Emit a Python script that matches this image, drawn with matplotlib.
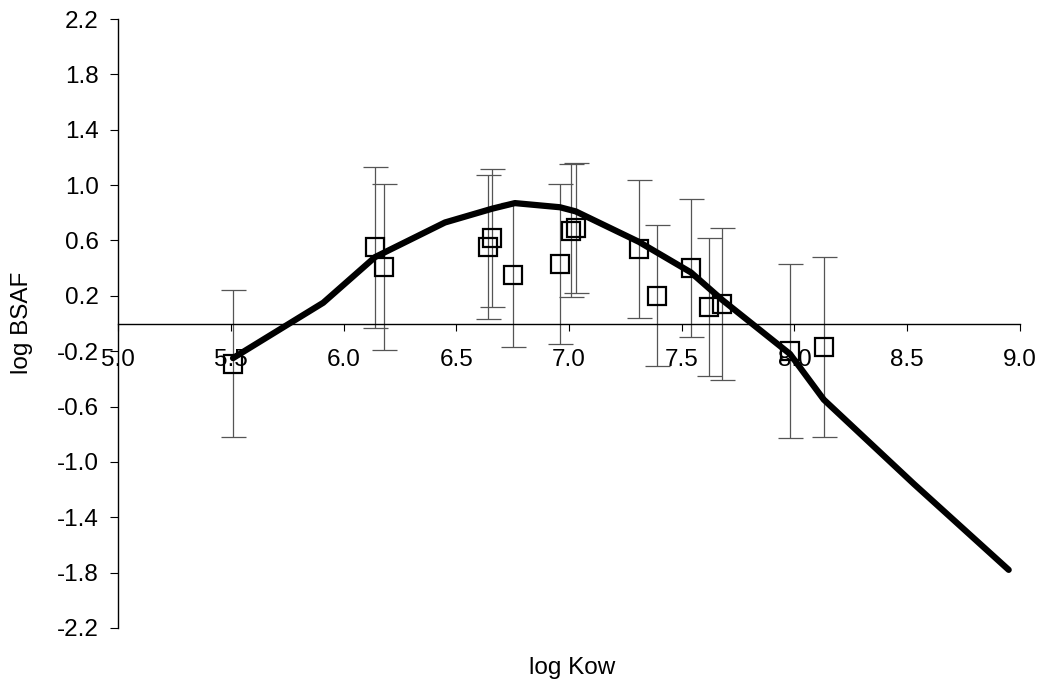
import matplotlib
matplotlib.use('Agg')
import matplotlib.pyplot as plt
import numpy as np

plt.rcParams['font.family'] = ['Liberation Sans', 'DejaVu Sans']

# ── datos medidos (cuadros con barras de error) ──────────────────────────────
log_kow = [5.51, 6.14, 6.18, 6.64, 6.66, 6.75, 6.96, 7.01, 7.03,
           7.31, 7.39, 7.54, 7.62, 7.68, 7.98, 8.13]
log_bsaf = [-0.29, 0.55, 0.41, 0.55, 0.62, 0.35, 0.43, 0.67, 0.69,
            0.54, 0.20, 0.40, 0.12, 0.14, -0.20, -0.17]
error = [0.53, 0.58, 0.60, 0.52, 0.50, 0.52, 0.58, 0.48, 0.47,
         0.50, 0.51, 0.50, 0.50, 0.55, 0.63, 0.65]

# ── curva del modelo ─────────────────────────────────────────────────────────
curva_x = [5.51, 5.91, 6.14, 6.45, 6.66, 6.76, 6.96, 7.03, 7.31,
           7.54, 7.68, 7.98, 8.13, 8.53, 8.95]
curva_y = [-0.25, 0.15, 0.48, 0.73, 0.83, 0.87, 0.84, 0.81, 0.59,
           0.37, 0.17, -0.22, -0.55, -1.16, -1.78]

xticks = np.arange(5.0, 9.01, 0.5)
yticks = np.arange(-2.2, 2.21, 0.4)

fig = plt.figure(figsize=(10.5, 6.87), dpi=100)
ax = fig.add_axes([0.1124, 0.0859, 0.859, 0.8864])

ax.errorbar(log_kow, log_bsaf, yerr=error, fmt='none', ecolor='#555555',
            elinewidth=0.9, capsize=9, capthick=0.9, zorder=2)
ax.plot(curva_x, curva_y, color='black', lw=4.5, solid_capstyle='round',
        solid_joinstyle='round', zorder=3)
ax.plot(log_kow, log_bsaf, linestyle='none', marker='s', markersize=13,
        markerfacecolor='none', markeredgecolor='black', markeredgewidth=1.6,
        zorder=4)

ax.set_xlim(5.0, 9.0)
ax.set_ylim(-2.2, 2.2)
ax.set_xticks(xticks)
ax.set_yticks(yticks)
ax.set_xticklabels([f"{v:.1f}" for v in xticks])
ax.set_yticklabels([f"{v:.1f}" for v in yticks])

ax.spines['top'].set_visible(False)
ax.spines['right'].set_visible(False)
ax.spines['bottom'].set_position(('data', 0))
ax.spines['bottom'].set_linewidth(1.0)
ax.spines['left'].set_linewidth(1.0)

ax.tick_params(axis='x', direction='out', length=5, pad=13, labelsize=17.5)
ax.tick_params(axis='y', direction='out', length=6, pad=8, labelsize=17.5)

fig.text(0.545, 0.028, "log Kow", fontsize=17.5, ha='center', va='center')
fig.text(0.021, 0.53, "log BSAF", fontsize=17.5, ha='center', va='center',
         rotation=90)

fig.savefig('out.png', dpi=100)
